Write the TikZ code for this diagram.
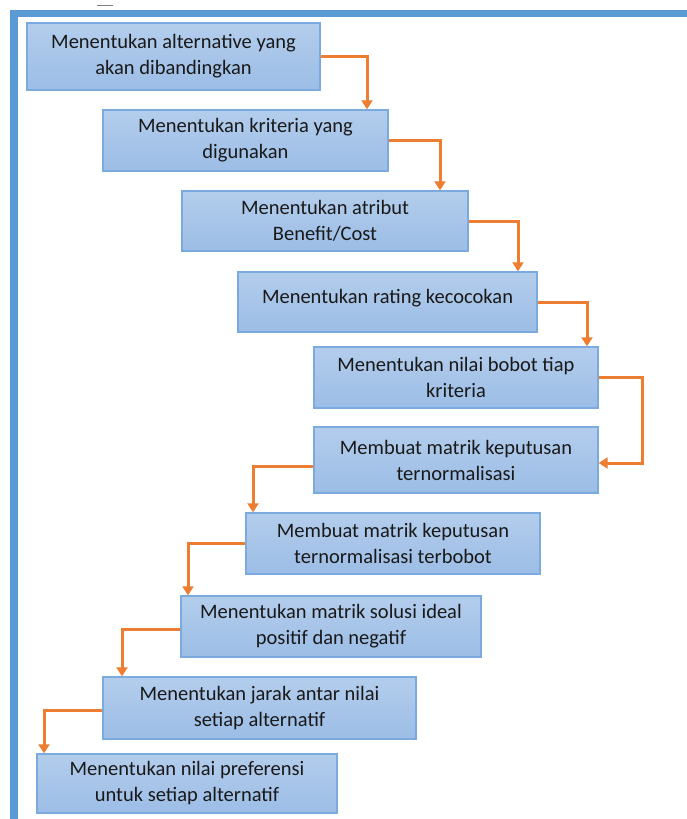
\documentclass[tikz,border=0pt]{standalone}
\usepackage{fontspec}
\setmainfont{Carlito}
\usetikzlibrary{arrows.meta}
\definecolor{frameblue}{HTML}{5B9BD5}
\definecolor{boxtop}{HTML}{B3CDEC}
\definecolor{boxbot}{HTML}{9CBDE6}
\definecolor{boxline}{HTML}{7BAADF}
\definecolor{arrorange}{HTML}{ED7D31}
\tikzset{
  stepbox/.style={draw=boxline, line width=1.4pt, top color=boxtop, bottom color=boxbot,
    align=center, inner sep=2pt, font=\fontsize{20.5}{26}\selectfont, text=black!90},
  arr/.style={draw=arrorange, line width=3pt, -{Triangle[length=9pt,width=11pt]}},
}
\begin{document}
\begin{tikzpicture}[x=1pt,y=-1pt]
\useasboundingbox (0,0) rectangle (687,819);
% frame
\fill[frameblue] (10,10) rectangle (687,17);
\fill[frameblue] (10,10) rectangle (18,819);
\draw[gray, line width=1pt] (97,5) -- (113,5);
% boxes
\node[stepbox, minimum width=293pt, minimum height=67pt] (b1) at (173.5,56.5) {Menentukan alternative yang\\akan dibandingkan};
\node[stepbox, minimum width=285pt, minimum height=61pt] (b2) at (245.5,140.5) {Menentukan kriteria yang\\digunakan};
\node[stepbox, minimum width=286pt, minimum height=60pt] (b3) at (325,221) {Menentukan atribut\\Benefit/Cost};
\node[stepbox, minimum width=299pt, minimum height=60pt] (b4) at (387.5,302) {Menentukan rating kecocokan\\[-14pt]};
\node[stepbox, minimum width=284pt, minimum height=61pt] (b5) at (456,377.5) {Menentukan nilai bobot tiap\\kriteria};
\node[stepbox, minimum width=284pt, minimum height=66pt] (b6) at (456,460) {Membuat matrik keputusan\\ternormalisasi};
\node[stepbox, minimum width=294pt, minimum height=61pt] (b7) at (393,543.5) {Membuat matrik keputusan\\ternormalisasi terbobot};
\node[stepbox, minimum width=300pt, minimum height=61pt] (b8) at (331,626.5) {Menentukan matrik solusi ideal\\positif dan negatif};
\node[stepbox, minimum width=313pt, minimum height=62pt] (b9) at (259.5,708) {Menentukan jarak antar nilai\\setiap alternatif};
\node[stepbox, minimum width=300pt, minimum height=59pt] (b10) at (187,783.5) {Menentukan nilai preferensi\\untuk setiap alternatif};
% connectors
\draw[arr] (b1.east) -| ([xshift=121.5pt]b2.north);
\draw[arr] (b2.east) -| ([xshift=115pt]b3.north);
\draw[arr] (b3.east) -| ([xshift=130.5pt]b4.north);
\draw[arr] (b4.east) -| ([xshift=131pt]b5.north);
\draw[arr] (b5.east) -- ([xshift=44pt]b5.east) |- ([yshift=-3pt]b6.east);
\draw[arr] ([yshift=-6pt]b6.west) -| ([xshift=-140pt]b7.north);
\draw[arr] (b7.west) -| ([xshift=-143pt]b8.north);
\draw[arr] ([yshift=-3pt]b8.west) -| ([xshift=-137.5pt]b9.north);
\draw[arr] ([yshift=-2pt]b9.west) -| ([xshift=-143pt]b10.north);
\end{tikzpicture}
\end{document}
